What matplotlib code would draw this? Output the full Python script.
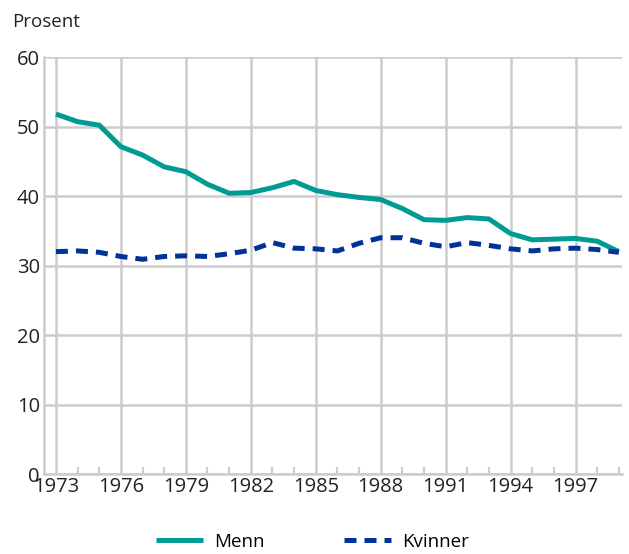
import matplotlib.pyplot as plt
import numpy as np

# Data
years = np.arange(1973, 2000)
menn = [51.8, 50.7, 50.2, 47.1, 45.9, 44.2, 43.5, 41.7, 40.4, 40.5,
        41.2, 42.1, 40.8, 40.2, 39.8, 39.5, 38.2, 36.6, 36.5, 36.9,
        36.7, 34.6, 33.7, 33.8, 33.9, 33.5, 32.0]
kvinner = [32.0, 32.1, 31.9, 31.3, 30.9, 31.3, 31.4, 31.3, 31.7, 32.2,
           33.3, 32.5, 32.4, 32.1, 33.2, 34.0, 34.0, 33.2, 32.7, 33.3,
           32.9, 32.4, 32.1, 32.4, 32.5, 32.3, 31.9]
xticks = np.arange(1973, 1998, 3)
yticks = [0, 10, 20, 30, 40, 50, 60]

plt.rcParams['font.family'] = ['Open Sans', 'DejaVu Sans']

fig = plt.figure(figsize=(6.29, 5.54), dpi=100)
ax = fig.add_axes([0.070, 0.1444, 0.919, 0.7526])

grid_col = '#cccccc'
ax.plot(years, menn, color='#009b95', lw=3.6, label='Menn', solid_capstyle='butt', zorder=3)
ax.plot(years, kvinner, color='#003399', lw=3.6, label='Kvinner', dashes=(2.4, 1.6), zorder=3)

ax.set_xlim(1972.45, 1999.15)
ax.set_ylim(0, 60)
ax.set_xticks(xticks)
ax.set_xticks(years, minor=True)
ax.set_yticks(yticks)
ax.grid(axis='both', which='major', color=grid_col, lw=1.8)
ax.set_axisbelow(True)

for s in ['top', 'right']:
    ax.spines[s].set_visible(False)
for s in ['left', 'bottom']:
    ax.spines[s].set_color(grid_col)
    ax.spines[s].set_linewidth(1.8)

ax.tick_params(axis='x', which='minor', direction='in', length=5, width=1.5, color=grid_col)
ax.tick_params(axis='x', which='major', direction='in', length=0, pad=2, labelsize=14.5, labelcolor='#222222')
ax.tick_params(axis='y', length=0, pad=3, labelsize=14.5, labelcolor='#222222')

fig.text(0.019, 0.96, 'Prosent', fontsize=13.5, color='#222222', va='center')

fig.legend(loc='center', bbox_to_anchor=(0.497, 0.022), ncol=2, frameon=False,
           fontsize=13.5, handlelength=2.5, columnspacing=4.2, handletextpad=0.6)

fig.savefig('out.png', dpi=100)
